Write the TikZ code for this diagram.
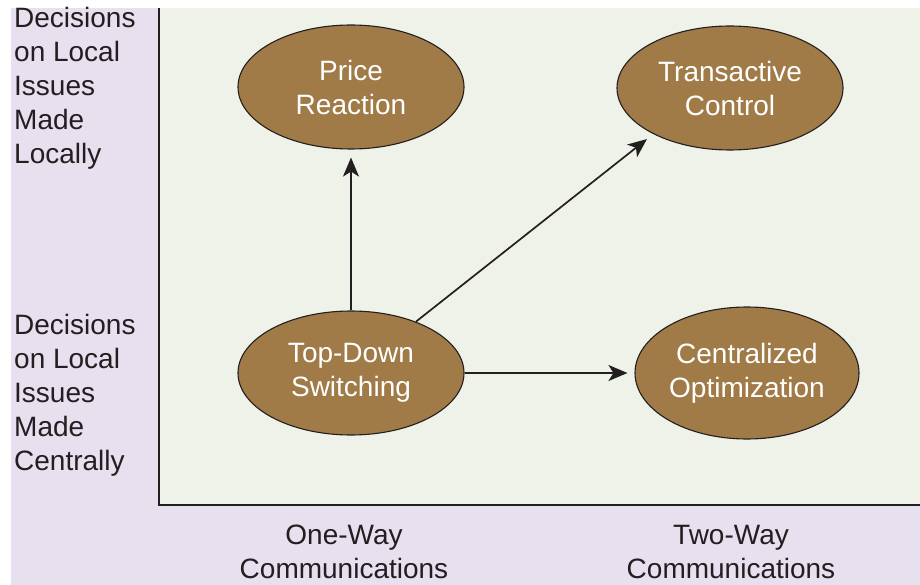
\documentclass[tikz,border=0pt]{standalone}
\usepackage{fontspec}
\setmainfont{Liberation Sans}
\usetikzlibrary{shapes.geometric,arrows.meta}
\definecolor{lav}{HTML}{E6E0EF}
\definecolor{plotbg}{HTML}{EFF2E9}
\definecolor{brownfill}{HTML}{A07A47}
\definecolor{ink}{HTML}{231F20}

\begin{document}
\begin{tikzpicture}[x=1pt,y=-1pt,
  oval/.style={ellipse, draw=ink, line width=1.1pt, fill=brownfill,
    minimum width=226pt, minimum height=124pt, inner sep=0pt,
    text=white, align=center, font=\fontsize{28}{34}\selectfont},
  axislabel/.style={align=left, anchor=north west, inner sep=0pt,
    text=ink, font=\fontsize{28}{34}\selectfont},
  bottomlabel/.style={align=center, anchor=north, inner sep=0pt,
    text=ink, font=\fontsize{28}{34}\selectfont},
  link/.style={draw=ink, line width=1.7pt,
    -{Stealth[length=19pt,width=16pt,inset=5pt]}}]

\useasboundingbox (0,0) rectangle (920,585);
% page and panels
\fill[white] (0,0) rectangle (920,585);
\fill[lav] (11,8) rectangle (920,585);
\fill[plotbg] (159,8) rectangle (920,505);
% axes
\draw[ink, line width=2pt] (159,8) -- (159,505) -- (920,505);

% strategies
\node[oval] (pr) at (351,87) {Price\\Reaction};
\node[oval] (tc) at (730,88) {Transactive\\Control};
\node[oval] (td) at (351,373) {Top-Down\\Switching};
\node[oval, minimum width=224pt, minimum height=132pt] (co) at (747,373) {Centralized\\Optimization};

% transitions
\draw[link, shorten >=8pt] (td) -- (pr);
\draw[link, shorten >=8pt] (td) -- (tc.211);
\draw[link, shorten >=7pt] (td) -- (co);

% axis labels
\node[axislabel] (loc) at (14,7) {Decisions\\on Local\\Issues\\Made\\Locally};
\node[axislabel] (cen) at (14,314) {Decisions\\on Local\\Issues\\Made\\Centrally};
\node[bottomlabel] (one) at (344,525) {One-Way\\Communications};
\node[bottomlabel] (two) at (731,525) {Two-Way\\Communications};
\end{tikzpicture}
\end{document}
